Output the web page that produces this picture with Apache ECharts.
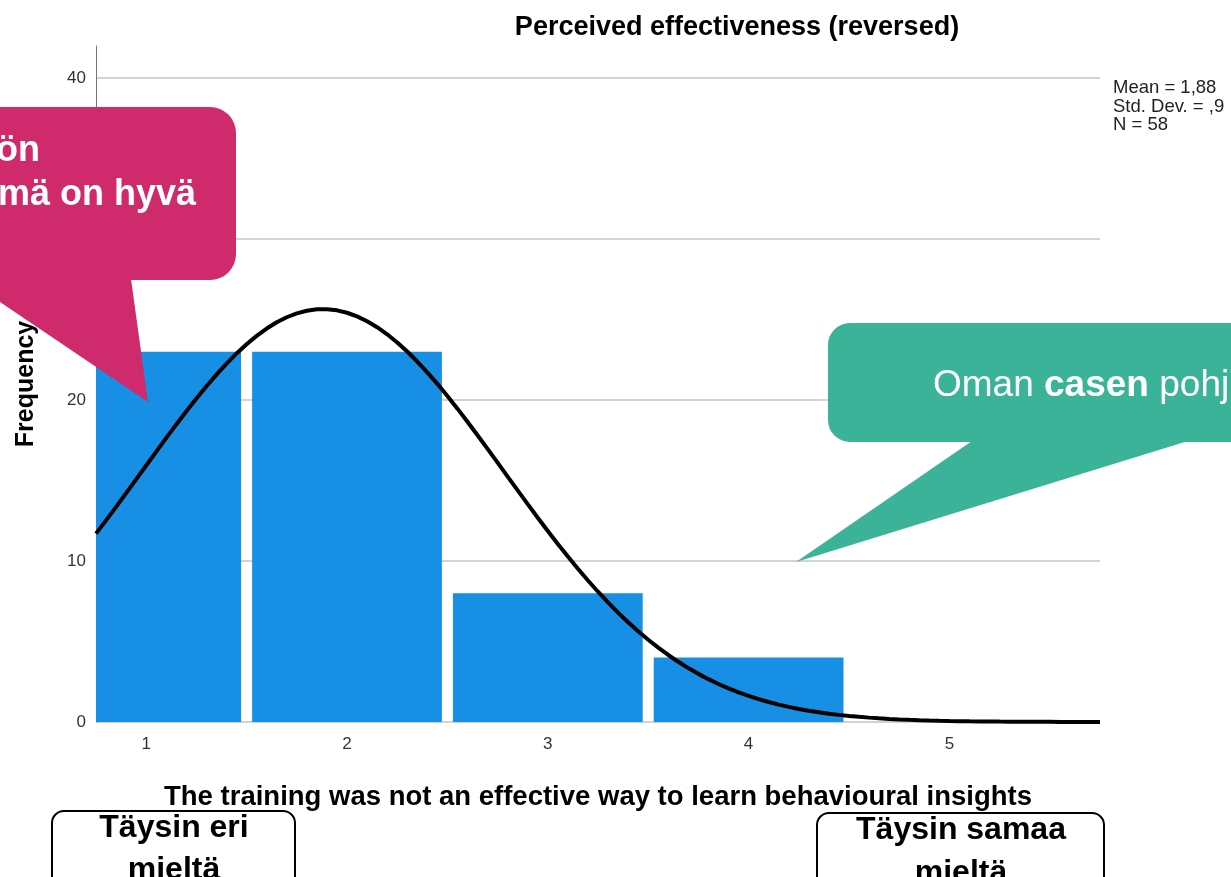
<!DOCTYPE html>
<html>
<head>
<meta charset="utf-8">
<script src="https://cdn.jsdelivr.net/npm/echarts@6/dist/echarts.min.js"></script>
<style>
  html, body { margin: 0; padding: 0; background: #fff; }
  #chart { width: 1231px; height: 877px; }
</style>
</head>
<body>
<div id="chart"></div>
<script>
// histogram bins (value 1..4) and their counts
const binCenters = [1, 2, 3, 4];
const frequencies = [23, 23, 8, 4];
const xTickValues = [1, 2, 3, 4, 5];

// fitted normal curve parameters shown in the chart legend
const MEAN = 1.88;
const SD = 0.902;
const N = 58;
const statsLines = ["Mean = 1,88", "Std. Dev. = ,9", "N = 58"];

const FONT = '"Liberation Sans", Arial, sans-serif';
const BAR_FILL = 0.945; // share of the bin width that the bar covers

const chart = echarts.init(document.getElementById("chart"));

// normal density scaled to counts (bin width = 1)
const curve = [];
for (let i = 0; i <= 100; i++) {
  const x = 0.75 + i * 0.05;
  const z = (x - MEAN) / SD;
  curve.push([x, (N / (SD * Math.sqrt(2 * Math.PI))) * Math.exp(-0.5 * z * z)]);
}

function renderBin(params, api) {
  const c = api.value(0);
  const v = api.value(1);
  const topLeft = api.coord([c - BAR_FILL / 2, v]);
  const bottomRight = api.coord([c + BAR_FILL / 2, 0]);
  const rect = echarts.graphic.clipRectByRect(
    {
      x: topLeft[0],
      y: topLeft[1],
      width: bottomRight[0] - topLeft[0],
      height: bottomRight[1] - topLeft[1],
    },
    {
      x: params.coordSys.x,
      y: params.coordSys.y,
      width: params.coordSys.width,
      height: params.coordSys.height,
    }
  );
  return rect && { type: "rect", shape: rect, style: api.style({ fill: "#168fe4" }) };
}

const onTop = (el) => Object.assign({ z: 100 }, el);

const option = {
  animation: false,
  backgroundColor: "#fff",
  textStyle: { fontFamily: FONT },
  title: {
    text: "Perceived effectiveness (reversed)",
    left: 732,
    top: 9,
    textAlign: "center",
    textStyle: { fontSize: 27, fontWeight: "bold", color: "#000", fontFamily: FONT },
  },
  grid: { left: 96, right: 131, top: 46, bottom: 155 },
  xAxis: {
    type: "value",
    min: 0.75,
    max: 5.75,
    name: "The training was not an effective way to learn behavioural insights",
    nameLocation: "middle",
    nameGap: 61,
    nameTextStyle: { fontSize: 27.5, fontWeight: "bold", color: "#000", fontFamily: FONT },
    axisLine: { show: false },
    axisTick: { show: false },
    splitLine: { show: false },
    axisLabel: {
      customValues: xTickValues,
      fontSize: 17,
      color: "#333",
      margin: 14,
    },
  },
  yAxis: {
    type: "value",
    min: 0,
    max: 42,
    interval: 10,
    name: "Frequency",
    nameLocation: "middle",
    nameRotate: 90,
    nameGap: 57,
    nameTextStyle: { fontSize: 25, fontWeight: "bold", color: "#000", fontFamily: FONT },
    axisLine: { show: true, lineStyle: { color: "#777", width: 1 } },
    axisTick: { show: false },
    axisLabel: {
      fontSize: 17,
      color: "#333",
      margin: 10,
      formatter: (v) => (v % 10 === 0 ? String(v) : ""),
    },
    splitLine: {
      lineStyle: {
        // last entry hides the line at the axis max
        color: ["#d3d3d3", "#d3d3d3", "#d3d3d3", "#d3d3d3", "#d3d3d3", "rgba(0,0,0,0)"],
        width: 2,
      },
    },
  },
  series: [
    {
      type: "custom",
      renderItem: renderBin,
      data: binCenters.map((c, i) => [c, frequencies[i]]),
      encode: { x: 0, y: 1 },
      z: 2,
    },
    {
      type: "line",
      data: curve,
      showSymbol: false,
      lineStyle: { color: "#000", width: 4 },
      z: 3,
    },
  ],
  graphic: [
    onTop({
      type: "text",
      x: 1113,
      y: 79,
      style: {
        text: statsLines.join("\n"),
        fontSize: 18.5,
        fontFamily: FONT,
        fill: "#222",
        lineHeight: 18.5,
        verticalAlign: "top",
      },
    }),
    // pink speech bubble (top left)
    onTop({
      type: "rect",
      shape: { x: -40, y: 107, width: 276, height: 173, r: 26 },
      style: { fill: "#cf2a6c" },
    }),
    onTop({
      type: "polygon",
      shape: { points: [[-34, 279], [131, 279], [148, 402]] },
      style: { fill: "#cf2a6c" },
    }),
    onTop({
      type: "text",
      z: 101,
      x: -4,
      y: 151,
      style: { text: "ön", fontSize: 36, fontWeight: "bold", fontFamily: FONT, fill: "#fff", verticalAlign: "middle" },
    }),
    onTop({
      type: "text",
      z: 101,
      x: 196,
      y: 195,
      style: { text: "mä on hyvä", fontSize: 36, fontWeight: "bold", fontFamily: FONT, fill: "#fff", align: "right", verticalAlign: "middle" },
    }),
    // teal speech bubble (right)
    onTop({
      type: "rect",
      shape: { x: 828, y: 323, width: 460, height: 119, r: 22 },
      style: { fill: "#3bb398" },
    }),
    onTop({
      type: "polygon",
      shape: { points: [[972, 441], [1188, 441], [796, 562]] },
      style: { fill: "#3bb398" },
    }),
    onTop({
      type: "text",
      z: 101,
      x: 933,
      y: 386,
      style: {
        text: "{r|Oman }{b|casen}{r| pohj}",
        verticalAlign: "middle",
        rich: {
          r: { fontSize: 37, fontFamily: FONT, fill: "#fff" },
          b: { fontSize: 37, fontFamily: FONT, fontWeight: "bold", fill: "#fff" },
        },
      },
    }),
    // bottom scale-end labels
    onTop({
      type: "rect",
      shape: { x: 52, y: 811, width: 243, height: 100, r: 12 },
      style: { fill: "#fff", stroke: "#000", lineWidth: 2 },
    }),
    onTop({
      type: "text",
      z: 101,
      x: 174,
      y: 807,
      style: {
        text: "Täysin eri\nmieltä",
        fontSize: 32,
        fontWeight: "bold",
        fontFamily: FONT,
        fill: "#000",
        align: "center",
        verticalAlign: "top",
        lineHeight: 42,
      },
    }),
    onTop({
      type: "rect",
      shape: { x: 817, y: 813, width: 287, height: 100, r: 12 },
      style: { fill: "#fff", stroke: "#000", lineWidth: 2 },
    }),
    onTop({
      type: "text",
      z: 101,
      x: 961,
      y: 809,
      style: {
        text: "Täysin samaa\nmieltä",
        fontSize: 32,
        fontWeight: "bold",
        fontFamily: FONT,
        fill: "#000",
        align: "center",
        verticalAlign: "top",
        lineHeight: 43,
      },
    }),
  ],
};

chart.setOption(option);

window.addEventListener("resize", () => chart.resize());
</script>
</body>
</html>
